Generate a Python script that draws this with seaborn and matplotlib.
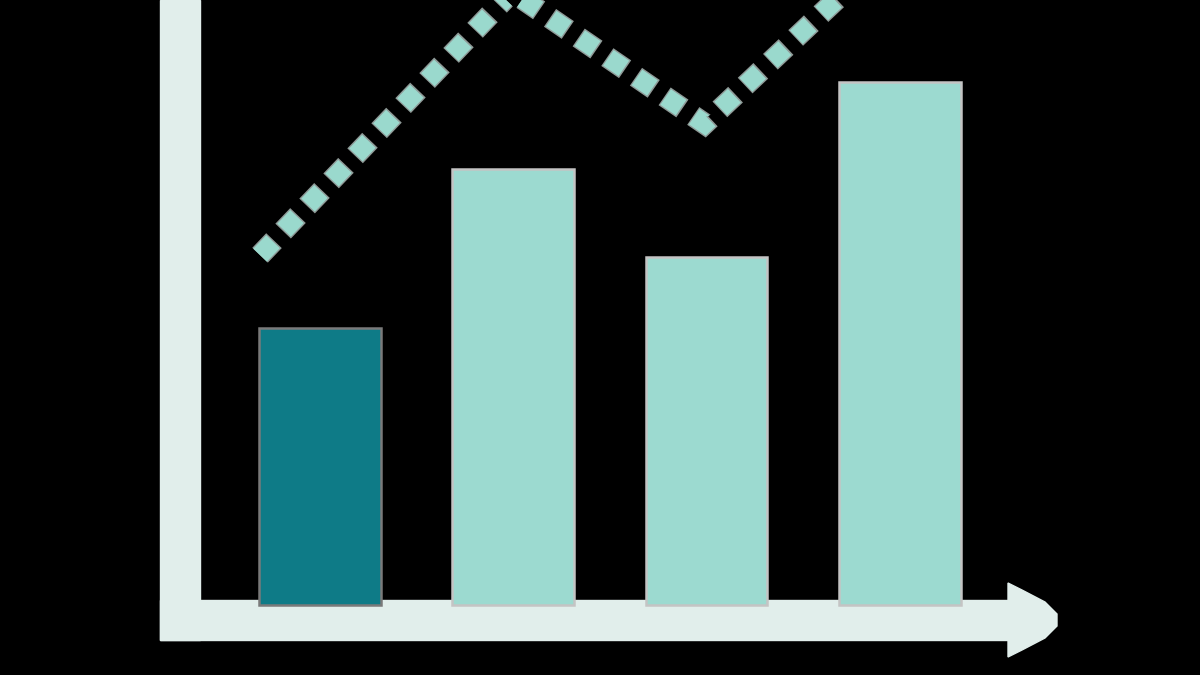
import matplotlib
matplotlib.use("Agg")
import matplotlib.pyplot as plt
import matplotlib.patches as mpatches
import matplotlib.transforms as mtransforms
import seaborn as sns
import pandas as pd

# ---- data ----
categories = ["A", "B", "C", "D"]
bar_values = [50.4, 79.2, 63.3, 95.0]
bar_colors = ["#0e7b87", "#9cdad0", "#9cdad0", "#9cdad0"]
bar_edges = ["#7a7a7a", "#c4c4c4", "#c4c4c4", "#c4c4c4"]

trend_x = [-0.31, 0.993, 1.99, 2.85]
trend_y = [63.6, 111.5, 87.5, 116.0]

# ---- figure ----
W, H, DPI = 1200, 675, 100
fig = plt.figure(figsize=(W / DPI, H / DPI), dpi=DPI, facecolor="black")
ax = fig.add_axes([0, 0, 1, 1])
ax.set_facecolor("black")

# axis decoration (in pixel coordinates, image y measured from top)
px = mtransforms.IdentityTransform()
axis_col = "#e1eeeb"
def fy(y):
    return H - y
ax.add_patch(mpatches.Rectangle((160, fy(640)), 40, 640, color=axis_col,
                                transform=px, zorder=1, clip_on=False))
ax.add_patch(mpatches.Rectangle((160, fy(640)), 852, 40, color=axis_col,
                                transform=px, zorder=1, clip_on=False))
head = [(1008, 583), (1022, 590), (1045, 602), (1057, 614), (1057, 626),
        (1045, 638), (1022, 650), (1008, 657)]
ax.add_patch(mpatches.Polygon([(x, fy(y)) for x, y in head], closed=True,
                              color=axis_col, transform=px, zorder=1,
                              clip_on=False))

df = pd.DataFrame({"cat": categories, "val": bar_values})
sns.barplot(data=df, x="cat", y="val", hue="cat", palette=bar_colors,
            saturation=1, legend=False, width=0.63, ax=ax, zorder=3)
bars = [p for p in ax.patches if isinstance(p, mpatches.Rectangle) and p.get_zorder() != 1]
for p, ec in zip(bars, bar_edges):
    p.set_edgecolor(ec)
    p.set_linewidth(1.8)
    p.set_zorder(3)

# dotted trend: thin grey halo underlay + main dashes
ax.plot(trend_x, trend_y, color="#b4c2bf", lw=15.5,
        linestyle=(1.0 / 15.5, (1.0, 9.5 / 15.5)), dash_capstyle="butt",
        dash_joinstyle="miter", zorder=4, alpha=0.8)
ax.plot(trend_x, trend_y, color="#9ad9cd", lw=13.5,
        linestyle=(0, (1.0, 0.85)), dash_capstyle="butt",
        dash_joinstyle="miter", zorder=5)

ax.set_xlim(-320 / 193.3, 880 / 193.3)
ax.set_ylim(-70 / 5.5, 605 / 5.5)
ax.axis("off")

fig.savefig("out.png", dpi=DPI, facecolor="black")
